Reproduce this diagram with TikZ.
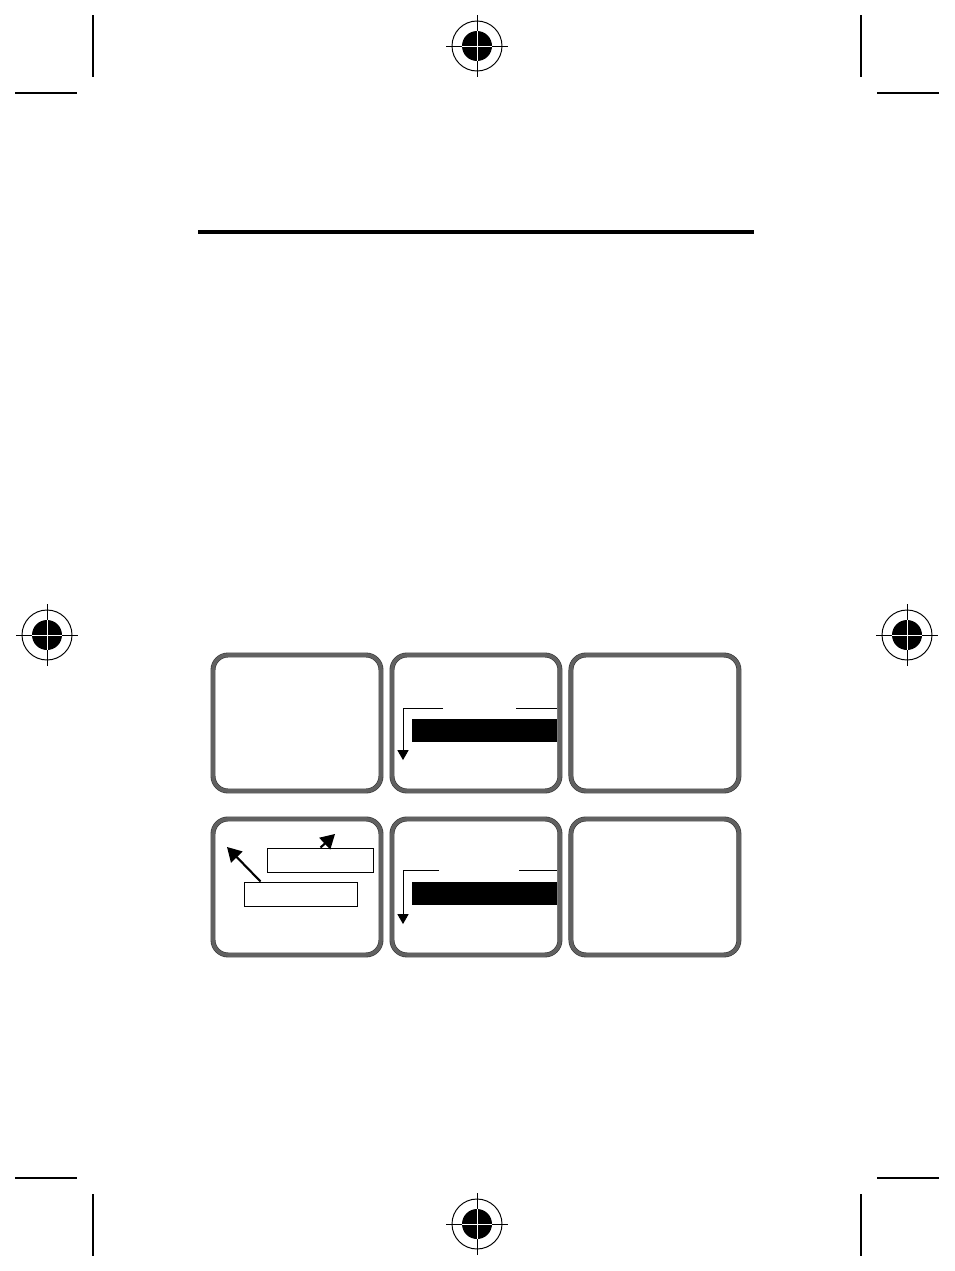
\documentclass[tikz,border=0pt]{standalone}
\usepackage{amsmath}
\usepackage{tikz}
\usetikzlibrary{arrows,shapes}

\begin{document}
\begin{tikzpicture}[x=0.02cm, y=-0.02cm, node distance=3.58cm, align=center,
    screen/.style={draw=black!80, line width=0.35pt, double=black!62, double distance=2.1pt,
        rounded corners=0.3cm, minimum width=3.36cm, minimum height=2.72cm, inner sep=0pt},
    bar/.style={fill=black, minimum width=2.9cm, minimum height=0.46cm, inner sep=0pt},
    labelbox/.style={draw=black, line width=0.5pt, minimum height=0.48cm, inner sep=0pt},
    crop/.style={draw=black, line width=0.85pt},
    ring/.style={circle, draw=black, line width=0.55pt, minimum size=1cm, inner sep=0pt},
    dot/.style={circle, fill=black, minimum size=0.6cm, inner sep=0pt}]
    \useasboundingbox (0,0) rectangle (954,1271);

    % crop marks
    \draw [crop] (93,15) -- (93,77);
    \draw [crop] (15,93) -- (77,93);
    \draw [crop] (861,15) -- (861,77);
    \draw [crop] (877,93) -- (939,93);
    \draw [crop] (15,1178) -- (77,1178);
    \draw [crop] (93,1194) -- (93,1256);
    \draw [crop] (877,1178) -- (939,1178);
    \draw [crop] (861,1194) -- (861,1256);

    % registration marks
    \node(regtop) [ring] at (477,46) {};
    \draw [line width=0.55pt] ([xshift=-0.62cm]regtop.center) -- ([xshift=0.62cm]regtop.center);
    \draw [line width=0.55pt] ([yshift=-0.62cm]regtop.center) -- ([yshift=0.62cm]regtop.center);
    \node(regtopdot) [dot] at (regtop) {};
    \draw [white, line width=0.55pt] (regtopdot.west) -- (regtopdot.east);
    \draw [white, line width=0.55pt] (regtopdot.north) -- (regtopdot.south);

    \node(regleft) [ring] at (47,635) {};
    \draw [line width=0.55pt] ([xshift=-0.62cm]regleft.center) -- ([xshift=0.62cm]regleft.center);
    \draw [line width=0.55pt] ([yshift=-0.62cm]regleft.center) -- ([yshift=0.62cm]regleft.center);
    \node(regleftdot) [dot] at (regleft) {};
    \draw [white, line width=0.55pt] (regleftdot.west) -- (regleftdot.east);
    \draw [white, line width=0.55pt] (regleftdot.north) -- (regleftdot.south);

    \node(regright) [ring] at (907,635) {};
    \draw [line width=0.55pt] ([xshift=-0.62cm]regright.center) -- ([xshift=0.62cm]regright.center);
    \draw [line width=0.55pt] ([yshift=-0.62cm]regright.center) -- ([yshift=0.62cm]regright.center);
    \node(regrightdot) [dot] at (regright) {};
    \draw [white, line width=0.55pt] (regrightdot.west) -- (regrightdot.east);
    \draw [white, line width=0.55pt] (regrightdot.north) -- (regrightdot.south);

    \node(regbottom) [ring] at (477,1224) {};
    \draw [line width=0.55pt] ([xshift=-0.62cm]regbottom.center) -- ([xshift=0.62cm]regbottom.center);
    \draw [line width=0.55pt] ([yshift=-0.62cm]regbottom.center) -- ([yshift=0.62cm]regbottom.center);
    \node(regbottomdot) [dot] at (regbottom) {};
    \draw [white, line width=0.55pt] (regbottomdot.west) -- (regbottomdot.east);
    \draw [white, line width=0.55pt] (regbottomdot.north) -- (regbottomdot.south);

    % heading rule
    \coordinate (ruleL) at (198,232);
    \coordinate (ruleR) at (754,232);
    \draw [line width=2.1pt] (ruleL) -- (ruleR);

    % screens, row 1
    \node(scr1) [screen] at (297,723)  {};
    \node(scr2) [screen, right of=scr1] {};
    \node(scr3) [screen, right of=scr2] {};

    % screens, row 2
    \node(scr4) [screen, below of=scr1, node distance=3.28cm] {};
    \node(scr5) [screen, right of=scr4] {};
    \node(scr6) [screen, right of=scr5] {};

    % screen 2
    \node(bar1) [bar] at (484.5,730.5) {};
    \coordinate (lineA1) at (443,708);
    \coordinate (cornerA) at (403,708);
    \coordinate (tipA) at (403,760);
    \coordinate (lineB1) at (516,708);
    \coordinate (lineB2) at (557,708);
    \draw [-triangle 60][draw=black, line width=0.5pt] (lineA1) -- (cornerA) -- (tipA);
    \draw [draw=black, line width=0.5pt] (lineB1) -- (lineB2);

    % screen 4
    \node(boxA) [labelbox, minimum width=2.12cm] at (320,860) {};
    \node(boxB) [labelbox, minimum width=2.26cm] at (300.5,894) {};
    \coordinate (tipL) at (227,847);
    \coordinate (tipR) at (335,834);
    \draw [-triangle 60][draw=black, line width=1.2pt] ([xshift=0.34cm]boxB.north west) -- (tipL);
    \draw [-triangle 60][draw=black, line width=1.2pt] ([xshift=1.08cm]boxA.north west) -- (tipR);

    % screen 5
    \node(bar2) [bar] at (484.5,893) {};
    \coordinate (lineC1) at (439,870);
    \coordinate (cornerC) at (403,870);
    \coordinate (tipC) at (403,924);
    \coordinate (lineD1) at (519,870);
    \coordinate (lineD2) at (557,870);
    \draw [-triangle 60][draw=black, line width=0.5pt] (lineC1) -- (cornerC) -- (tipC);
    \draw [draw=black, line width=0.5pt] (lineD1) -- (lineD2);

\end{tikzpicture}
\end{document}
